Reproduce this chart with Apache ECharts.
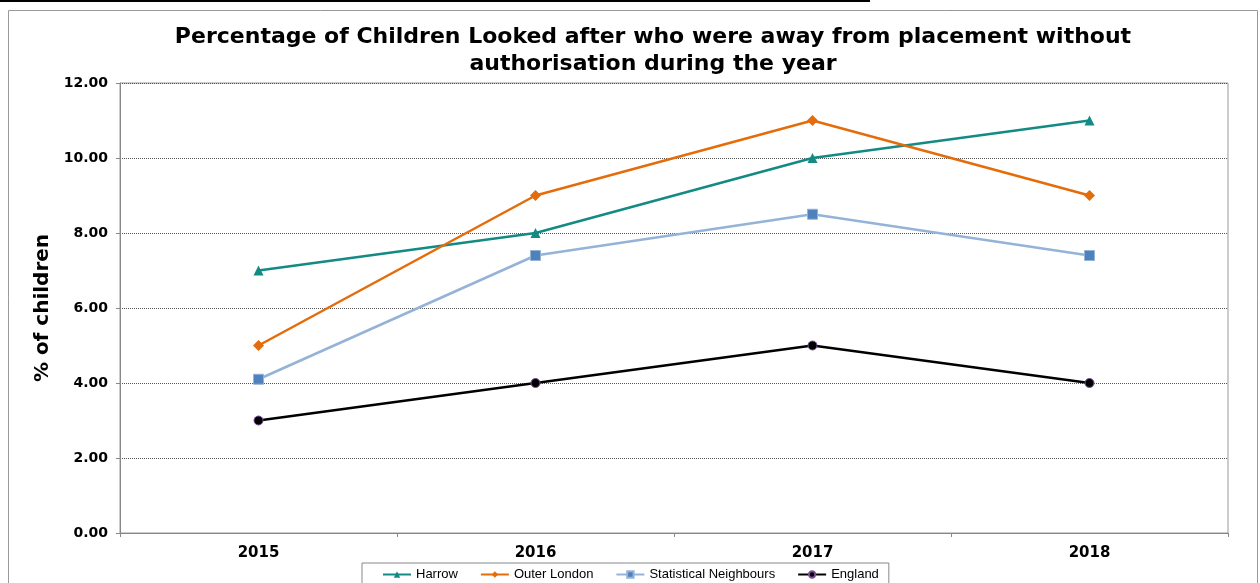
<!DOCTYPE html>
<html><head><meta charset="utf-8">
<script src="https://cdn.jsdelivr.net/npm/echarts@6/dist/echarts.min.js"></script>
<style>html,body{margin:0;padding:0;background:#fff}#c{width:1260px;height:583px}</style>
</head><body><div id="c"></div>
<script>
const years = ['2015','2016','2017','2018'];
const harrow = [7, 8, 10, 11];
const outerLondon = [5, 9, 11, 9];
const statNeighbours = [4.1, 7.4, 8.5, 7.4];
const england = [3, 4, 5, 4];
const yTicks = {min: 0, max: 12, interval: 2};

const chart = echarts.init(document.getElementById('c'));
const lbl = {fontFamily: 'DejaVu Sans', fontWeight: 'bold', color: '#000'};
chart.setOption({
  animation: false,
  title: {
    text: 'Percentage of Children Looked after who were away from placement without\nauthorisation during the year',
    left: 648, top: 19, textAlign: 'center',
    textStyle: {fontFamily: 'DejaVu Sans', fontWeight: 'bold', fontSize: 22, color: '#000', lineHeight: 27}
  },
  graphic: [
    {type: 'line', shape: {x1: 0, y1: 1, x2: 870, y2: 1}, style: {stroke: '#000', lineWidth: 2}},
    {type: 'rect', shape: {x: 8.5, y: 10.5, width: 1249, height: 600}, style: {fill: null, stroke: '#999', lineWidth: 1}}
  ],
  legend: {
    bottom: -6, left: 362, itemWidth: 28, itemHeight: 8, itemGap: 22,
    padding: [5, 10, 8, 20], borderColor: '#888', borderWidth: 1,
    textStyle: {fontFamily: 'Liberation Sans', fontSize: 13, color: '#000'},
    data: ['Harrow', 'Outer London', 'Statistical Neighbours', 'England']
  },
  grid: {left: 120, right: 32, top: 83, bottom: 50, show: true, borderColor: '#999', borderWidth: 1},
  xAxis: {
    type: 'category', data: years, boundaryGap: true,
    axisLine: {lineStyle: {color: '#888'}},
    axisTick: {show: true, length: 4, lineStyle: {color: '#888'}},
    axisLabel: Object.assign({margin: 13, fontSize: 15}, lbl)
  },
  yAxis: {
    type: 'value', min: yTicks.min, max: yTicks.max, interval: yTicks.interval,
    name: '% of children', nameLocation: 'middle', nameGap: 61,
    nameTextStyle: {fontFamily: 'DejaVu Sans', fontWeight: 'bold', fontSize: 20, color: '#000'},
    axisLine: {show: true, lineStyle: {color: '#888'}},
    axisTick: {show: true, length: 4, lineStyle: {color: '#888'}},
    axisLabel: Object.assign({margin: 12, fontSize: 14, formatter: v => v.toFixed(2)}, lbl),
    splitLine: {show: true, lineStyle: {color: '#555', type: [1, 1], width: 1}}
  },
  series: [
    {name: 'Harrow', type: 'line', data: harrow, symbol: 'triangle', symbolSize: 10,
     lineStyle: {color: '#138A83', width: 2.5}, itemStyle: {color: '#138A83'}},
    {name: 'Outer London', type: 'line', data: outerLondon, symbol: 'diamond', symbolSize: 11,
     lineStyle: {color: '#E46C0A', width: 2.5}, itemStyle: {color: '#E46C0A'}},
    {name: 'Statistical Neighbours', type: 'line', data: statNeighbours, symbol: 'rect', symbolSize: 10,
     lineStyle: {color: '#95B3D7', width: 2.5}, itemStyle: {color: '#4F81BD', borderColor: '#95B3D7', borderWidth: 1}},
    {name: 'England', type: 'line', data: england, symbol: 'circle', symbolSize: 9,
     lineStyle: {color: '#000', width: 2.5}, itemStyle: {color: '#000', borderColor: '#7a4f9a', borderWidth: 1}}
  ]
});
</script></body></html>
